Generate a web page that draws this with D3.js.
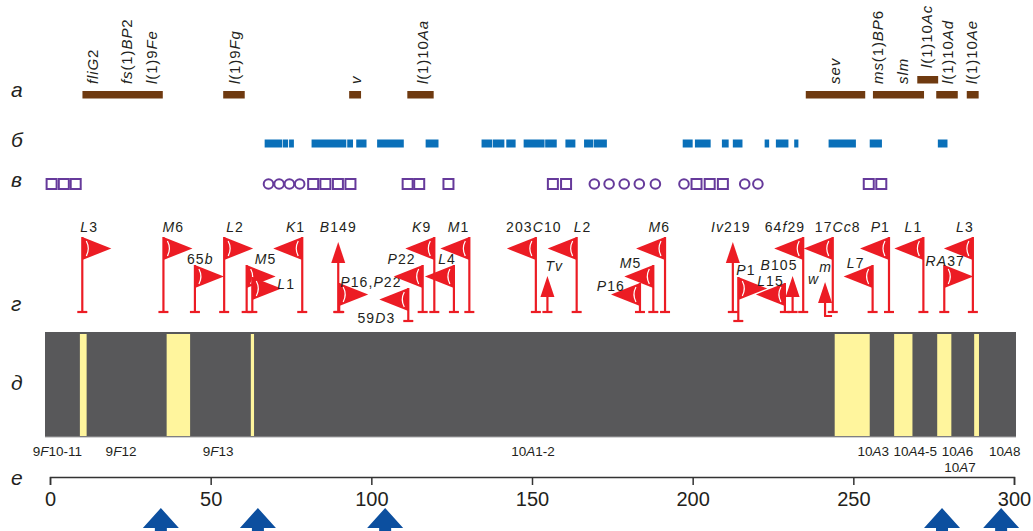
<!DOCTYPE html>
<html>
<head>
<meta charset="utf-8">
<script src="https://cdn.jsdelivr.net/npm/d3@7"></script>
<style>
  body { margin: 0; background: #fff; }
  text { font-family: "Liberation Sans", Arial, sans-serif; fill: #231f20; }
</style>
</head>
<body>
<script>
// gene bars (row a), kb
var geneStart = [10.1, 53.9, 93.1, 111.2, 235.2, 256.1, 269.9, 275.8, 285.3];
var geneEnd = [35.1, 60.6, 96.8, 119.4, 253.7, 272.0, 276.4, 282.5, 289.0];
var geneRaised = [0, 0, 0, 0, 0, 0, 1, 0, 0];
var geneNames = ["fliG2", "fs(1)BP2", "l(1)9Fe", "l(1)9Fg", "v", "l(1)10Aa", "sev", "ms(1)BP6", "slm", "l(1)10Ac", "l(1)10Ad", "l(1)10Ae"];
var geneNamePos = [13.4, 24.0, 31.7, 57.6, 95.2, 116.1, 244.3, 257.7, 265.4, 272.8, 279.5, 286.8];
var geneNameRaised = [0, 0, 0, 0, 0, 0, 0, 0, 0, 1, 0, 0];

// row б
var cloneStart = [66.8, 72.5, 74.4, 81.4, 92.5, 95.3, 101.8, 116.9, 134.3, 137.8, 142.0, 147.4, 154.1, 160.4, 166.2, 169.3, 196.9, 200.7, 209.1, 212.5, 222.4, 225.9, 231.6, 242.3, 255.1, 276.3];
var cloneEnd = [72.3, 74.1, 75.9, 92.2, 94.3, 98.5, 110.1, 120.9, 137.6, 141.4, 144.9, 153.9, 157.7, 163.5, 169.1, 173.3, 200.0, 205.6, 211.2, 215.5, 223.8, 229.8, 232.9, 250.8, 258.9, 279.3];

// row в
var squarePos = [0.5, 4.3, 8.0, 81.9, 85.7, 89.6, 93.5, 111.3, 114.9, 124.0, 156.5, 160.6, 201.2, 205.3, 209.4, 254.8, 258.7];
var circlePos = [68.0, 71.3, 74.5, 77.7, 169.4, 174.0, 178.7, 183.4, 188.4, 197.3, 216.2, 220.3];

// row г: breakpoints
var flagNames = ["L3", "M6", "65b", "L2", "M5", "L1", "K1", "B149", "P16,P22", "59D3", "P22", "K9", "L4", "M1", "203C10", "Tv", "L2", "P16", "M5", "M6", "Iv219", "P1", "L15", "B105", "64f29", "wm", "17Cc8", "L7", "P1", "L1", "RA37", "L3"];
var flagPos = [10.05, 35.3, 45.1, 54.2, 61.2, 62.96, 78.5, 89.7, 90.0, 111.5, 115.98, 119.6, 125.7, 130.5, 151.2, 154.8, 163.9, 183.6, 187.75, 191.4, 212.5, 214.2, 228.7, 231.1, 234.4, 241.2, 243.6, 256.0, 261.1, 271.8, 278.3, 287.2];
var flagDir = ["r", "r", "r", "r", "r", "r", "l", "u", "r", "l", "l", "l", "l", "l", "l", "u", "l", "l", "l", "l", "u", "r", "l", "u", "l", "u", "l", "l", "l", "l", "r", "l"];
var flagTier = [0, 0, 1, 0, 1, 2, 0, 0, 3, 4, 1, 0, 1, 0, 0, 2, 0, 3, 1, 0, 0, 2, 3, 2, 0, 3, 0, 1, 0, 0, 1, 0];
var flagFoot = ["f", "f", "f", "f", "f", "f", "f", "f", "f", "d", "f", "f", "f", "f", "f", "f", "f", "f", "f", "f", "f", "d", "f", "f", "f", "h", "f", "f", "f", "f", "f", "f"];
// label placement (layout only)
var labAnchor = ["start", "start", "start", "start", "start", "start", "end", "middle", "start", "end", "end", "end", "end", "end", "middle", "start", "start", "end", "end", "end", "middle", "start", "end", "end", "end", "start", "middle", "end", "end", "end", "middle", "end"];
var labDx = [-2, -1, -8, 2, 8, 25, 3, 0, 1, -13, -7, -3, 2, 0, -2, -2, -3, -15, -12, 5, -2, -2, -1, 5, 2, -17, 5, -8, 1, -1, 1, 1];
var labY = [232, 232, 264, 232, 264, 289, 232, 232, 287, 323, 264, 232, 264, 232, 232, 271, 232, 291, 268, 232, 232, 275, 285.5, 270, 232, 284, 232, 268, 232, 232, 266, 232];

// row д: light bands
var bandStart = [9.3, 36.3, 62.5, 244.2, 262.7, 276.1, 287.6];
var bandEnd = [11.4, 43.6, 63.5, 255.1, 268.4, 280.5, 289.1];
var bandNames = ["9F10-11", "9F12", "9F13", "10A1-2", "10A3", "10A4-5", "10A6", "10A7", "10A8"];
var bandNamePos = [2.3, 22.1, 52.3, 150.3, 256.2, 269.3, 282.4, 283.2, 297.1];
var bandNameLine = [0, 0, 0, 0, 0, 0, 0, 1, 0];

// row е
var axisTicks = [0, 50, 100, 150, 200, 250, 300];
var arrowPos = [34.5, 64.7, 104.3, 277.6, 296.0];

var rowLetters = ["а", "б", "в", "г", "д", "е"];
var rowLetterY = [97, 147, 187, 311, 390, 485];

var svgWidth = 1033;
var svgHeight = 531;

var svg = d3.select("body")
  .append("svg")
  .attr("width", svgWidth)
  .attr("height", svgHeight);

var x = d3.scaleLinear().domain([0, 300]).range([50, 1014]);

var red = "#ec1c24";

// letters italic, digits and brackets upright
function addRuns(sel, str) {
  str.match(/[A-Za-z]+|[^A-Za-z]+/g).forEach(function (s) {
    sel.append("tspan")
      .attr("font-style", /[A-Za-z]/.test(s) ? "italic" : "normal")
      .text(s);
  });
}

// row labels
svg.selectAll(".rowLetter")
  .data(rowLetters)
  .enter()
  .append("text")
  .attr("x", 11)
  .attr("y", (d, i) => rowLetterY[i])
  .attr("font-size", 21)
  .attr("font-style", "italic")
  .text(d => d);

// ---- row a
svg.selectAll(".gene")
  .data(geneStart)
  .enter()
  .append("rect")
  .attr("x", d => x(d))
  .attr("y", (d, i) => geneRaised[i] ? 76 : 91)
  .attr("width", (d, i) => x(geneEnd[i]) - x(d))
  .attr("height", 7.5)
  .attr("fill", "#6f3a10");

geneNames.forEach(function (name, i) {
  var gx = x(geneNamePos[i]);
  var gy = geneNameRaised[i] ? 68 : 84;
  var t = svg.append("text")
    .attr("x", gx)
    .attr("y", gy)
    .attr("dy", "0.35em")
    .attr("font-size", 15)
    .attr("letter-spacing", 0.9)
    .attr("transform", `rotate(-90, ${gx}, ${gy})`);
  addRuns(t, name);
});

// ---- row б
svg.selectAll(".clone")
  .data(cloneStart)
  .enter()
  .append("rect")
  .attr("x", d => x(d))
  .attr("y", 139.5)
  .attr("width", (d, i) => x(cloneEnd[i]) - x(d))
  .attr("height", 8)
  .attr("fill", "#0a70b9");

// ---- row в
svg.selectAll(".sq")
  .data(squarePos)
  .enter()
  .append("rect")
  .attr("x", d => x(d) - 5)
  .attr("y", 179)
  .attr("width", 10)
  .attr("height", 10)
  .attr("fill", "none")
  .attr("stroke", "#663a9b")
  .attr("stroke-width", 2);

svg.selectAll(".ci")
  .data(circlePos)
  .enter()
  .append("circle")
  .attr("cx", d => x(d))
  .attr("cy", 184)
  .attr("r", 4.8)
  .attr("fill", "none")
  .attr("stroke", "#663a9b")
  .attr("stroke-width", 2);

// ---- row г
var tierTop = [237, 265, 277, 283, 288];
var footY = { f: 312, d: 321, h: 316 };

flagNames.forEach(function (name, i) {
  var px = x(flagPos[i]);
  var top = tierTop[flagTier[i]];
  var dir = flagDir[i];
  var bottom = footY[flagFoot[i]];
  var g = svg.append("g");
  var poleTop = top;

  if (dir === "u") {
    var at = flagTier[i] === 0 ? top + 5 : top - 1;
    g.append("path")
      .attr("d", `M${px},${at}L${px + 7},${at + 21}L${px - 7},${at + 21}Z`)
      .attr("fill", red);
    poleTop = at + 20;
  } else {
    var s = dir === "r" ? 1 : -1;
    g.append("path")
      .attr("d", `M${px},${top}L${px + s * 29},${top + 11.5}L${px},${top + 23}Z`)
      .attr("fill", red);
    g.append("path")
      .attr("d", `M${px + s * 4},${top + 4}Q${px + s * 8},${top + 11.5} ${px + s * 4},${top + 19}`)
      .attr("fill", "none")
      .attr("stroke", "#fff")
      .attr("stroke-width", 1.2);
  }

  g.append("line")
    .attr("x1", px).attr("x2", px)
    .attr("y1", poleTop).attr("y2", bottom)
    .attr("stroke", red)
    .attr("stroke-width", 2.2);

  if (flagFoot[i] === "h") {
    g.append("line")
      .attr("x1", px - 1).attr("x2", px + 7)
      .attr("y1", bottom).attr("y2", bottom)
      .attr("stroke", red).attr("stroke-width", 2);
  } else {
    g.append("line")
      .attr("x1", px - 5).attr("x2", px + 5)
      .attr("y1", bottom).attr("y2", bottom)
      .attr("stroke", red).attr("stroke-width", 2.2);
  }

  var t = svg.append("text")
    .attr("x", px + labDx[i])
    .attr("y", labY[i])
    .attr("text-anchor", labAnchor[i])
    .attr("font-size", 14)
    .attr("letter-spacing", 1.1);
  if (name === "wm") {
    t.append("tspan").attr("font-style", "italic").text("w");
    t.append("tspan").attr("font-style", "italic").attr("dy", -12.5).text("m");
  } else {
    addRuns(t, name);
  }
});

// ---- row д
svg.append("rect")
  .attr("x", x(0) - 5)
  .attr("y", 332)
  .attr("width", x(300) - x(0) + 7)
  .attr("height", 105)
  .attr("fill", "#58585a");

svg.selectAll(".band")
  .data(bandStart)
  .enter()
  .append("rect")
  .attr("x", d => x(d))
  .attr("y", 334)
  .attr("width", (d, i) => x(bandEnd[i]) - x(d))
  .attr("height", 102)
  .attr("fill", "#fff59d");

svg.append("line")
  .attr("x1", x(0) - 5).attr("x2", x(300) + 2)
  .attr("y1", 437).attr("y2", 437)
  .attr("stroke", "#a7a7a9")
  .attr("stroke-width", 1);

bandNames.forEach(function (name, i) {
  var t = svg.append("text")
    .attr("x", x(bandNamePos[i]))
    .attr("y", 456 + bandNameLine[i] * 16)
    .attr("text-anchor", "middle")
    .attr("font-size", 13.5);
  addRuns(t, name);
});

// ---- row е
var axis = d3.axisBottom(x)
  .tickValues(axisTicks)
  .tickSize(8)
  .tickPadding(7);

var axisG = svg.append("g")
  .attr("transform", "translate(0, 477)")
  .call(axis);

axisG.select(".domain").attr("stroke", "#333").attr("stroke-width", 1.5);
axisG.selectAll(".tick line").attr("stroke", "#333").attr("stroke-width", 1.5);
axisG.selectAll(".tick text")
  .attr("font-size", 20)
  .attr("font-family", "\"Liberation Sans\", Arial, sans-serif")
  .attr("fill", "#231f20");

svg.selectAll(".blueArrow")
  .data(arrowPos)
  .enter()
  .append("path")
  .attr("d", function (d) {
    var ax = x(d);
    return `M${ax},508L${ax + 18},528L${ax + 6},528L${ax + 6},531L${ax - 6},531L${ax - 6},528L${ax - 18},528Z`;
  })
  .attr("fill", "#0c4f9f");
</script>
</body>
</html>
